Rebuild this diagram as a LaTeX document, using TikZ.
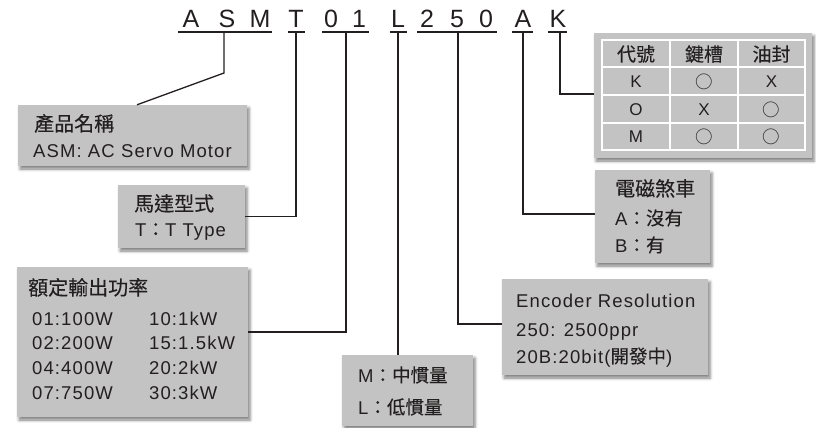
\documentclass[tikz,border=0pt]{standalone}
\usepackage{fontspec}
\setmainfont{Liberation Sans}[LetterSpace=6]
\newfontfamily\titlefont{Liberation Sans}
\newfontfamily\cjk{Noto Sans CJK TC}[FakeBold=0.25]
\newfontfamily\cjkthin{Noto Sans CJK TC}
\usetikzlibrary{shadows.blur}
\definecolor{ink}{HTML}{231F20}
\definecolor{boxgray}{HTML}{C3C3C3}
\tikzset{
  box/.style={fill=boxgray, inner sep=0pt, draw=none,
    blur shadow={shadow xshift=2pt, shadow yshift=-3pt, shadow blur radius=3pt, shadow opacity=50}},
  txt/.style={anchor=base west, inner sep=0pt, text=ink, font=\fontsize{18.5}{22}\selectfont},
  ctxt/.style={anchor=base west, inner sep=0pt, text=ink, font=\fontsize{20}{24}\selectfont\cjk},
  cell/.style={anchor=center, inner sep=0pt, text=ink, font=\fontsize{17}{20}\selectfont},
  ccell/.style={anchor=center, inner sep=0pt, text=ink, font=\fontsize{19}{22}\selectfont\cjk},
  circ/.style={anchor=center, inner sep=0pt, text=ink, font=\fontsize{17.5}{20}\selectfont\cjkthin},
  code/.style={anchor=base, inner sep=0pt, text=ink, font=\fontsize{25}{30}\selectfont\titlefont},
  uline/.style={draw=ink, line width=1.4pt},
  conn/.style={draw=ink, line width=1.3pt},
  grid/.style={draw=white, line width=1.5pt}
}
\begin{document}
\begin{tikzpicture}[x=1pt,y=-1pt]
\useasboundingbox (0,0) rectangle (816,428);

% code letters
\node[code] (cA1) at (191,28) {A};
\node[code] (cS)  at (227,28) {S};
\node[code] (cM)  at (260,28) {M};
\node[code] (cT)  at (296,28) {T};
\node[code] (c0a) at (331,28) {0};
\node[code] (c1)  at (359,28) {1};
\node[code] (cL)  at (398,28) {L};
\node[code] (c2)  at (427,28) {2};
\node[code] (c5)  at (457,28) {5};
\node[code] (c0b) at (486,28) {0};
\node[code] (cA2) at (523,28) {A};
\node[code] (cK)  at (558,28) {K};

% underlines
\draw[uline] (178,32) -- (272,32);
\draw[uline] (288,32) -- (305,32);
\draw[uline] (322,32) -- (369,32);
\draw[uline] (390,32) -- (407,32);
\draw[uline] (417,32) -- (497,32);
\draw[uline] (512,32) -- (533,32);
\draw[uline] (548,32) -- (567,32);

\coordinate (tASM) at (224,32);
\coordinate (tT) at (296,32);
\coordinate (t01) at (346,32);
\coordinate (tL) at (398,32);
\coordinate (t250) at (458,32);
\coordinate (tA) at (523,32);
\coordinate (tK) at (560,32);
\coordinate (bASM) at (224,73);

% boxes
\node[box, minimum width=229pt, minimum height=61pt] (box1) at (132.5,135.5) {};
\node[box, minimum width=127pt, minimum height=63pt] (box2) at (181.5,216.5) {};
\node[box, minimum width=231pt, minimum height=150pt] (box3) at (132.5,342) {};
\node[box, minimum width=131pt, minimum height=71pt] (box4) at (407.5,390.5) {};
\node[box, minimum width=206pt, minimum height=96pt] (box5) at (605,327) {};
\node[box, minimum width=115pt, minimum height=93pt] (box6) at (652.5,216.5) {};
\node[box, minimum width=218pt, minimum height=125pt] (box7) at (703,95.5) {};

% connectors
\draw[conn] (tASM) -- (bASM) -- ([xshift=4.5pt]box1.north);
\draw[conn] (tT) |- (box2.east);
\draw[conn] (t01) |- ([yshift=10pt]box3.east);
\draw[conn] (tL) -- (tL |- box4.north);
\draw[conn] (t250) |- ([yshift=3pt]box5.west);
\draw[conn] (tA) |- ([yshift=2.5pt]box6.west);
\draw[conn] (tK) |- ([yshift=1.5pt]box7.west);

% box1
\node[ctxt] (b1t) at (34,131) {產品名稱};
\node[txt] (b1a) at (33,157) {ASM: AC Servo Motor};
% box2
\node[ctxt] (b2t) at (134,211) {馬達型式};
\node[txt] (b2a) at (135,236) {T{\cjk ：}T Type};
% box3
\node[ctxt] (b3t) at (28,295) {額定輸出功率};
\node[txt] (r1a) at (32,325) {01:100W};
\node[txt] (r1b) at (149,325) {10:1kW};
\node[txt] (r2a) at (32,349) {02:200W};
\node[txt] (r2b) at (149,349) {15:1.5kW};
\node[txt] (r3a) at (32,374) {04:400W};
\node[txt] (r3b) at (149,374) {20:2kW};
\node[txt] (r4a) at (32,399) {07:750W};
\node[txt] (r4b) at (149,399) {30:3kW};
% box4
\node[txt] (b4a) at (358,382) {M{\cjk ：中慣量}};
\node[txt] (b4b) at (358,414) {L{\cjk ：低慣量}};
% box5
\node[txt] (b5t) at (516,307) {Encoder Resolution};
\node[txt] (b5a) at (516,336) {250: 2500ppr};
\node[txt] (b5b) at (516,363) {20B:20bit({\cjk 開發中})};
% box6
\node[ctxt] (b6t) at (615,196) {電磁煞車};
\node[txt] (b6a) at (615,225) {A{\cjk ：沒有}};
\node[txt] (b6b) at (615,252) {B{\cjk ：有}};

% table grid
\draw[grid] (602,40) rectangle (805,150);
\draw[grid] (670,40) -- (670,150);
\draw[grid] (738,40) -- (738,150);
\draw[grid] (602,67) -- (805,67);
\draw[grid] (602,95) -- (805,95);
\draw[grid] (602,123) -- (805,123);

\node[ccell] (h1) at (636,54) {代號};
\node[ccell] (h2) at (704,54) {鍵槽};
\node[ccell] (h3) at (771.5,54) {油封};
\node[cell] (k1) at (636,81.5) {K};
\node[circ] (k2) at (704,81.5) {○};
\node[cell] (k3) at (771.5,81.5) {X};
\node[cell] (o1) at (636,109.5) {O};
\node[cell] (o2) at (704,109.5) {X};
\node[circ] (o3) at (771.5,109.5) {○};
\node[cell] (m1) at (636,137) {M};
\node[circ] (m2) at (704,137) {○};
\node[circ] (m3) at (771.5,137) {○};
\end{tikzpicture}
\end{document}
